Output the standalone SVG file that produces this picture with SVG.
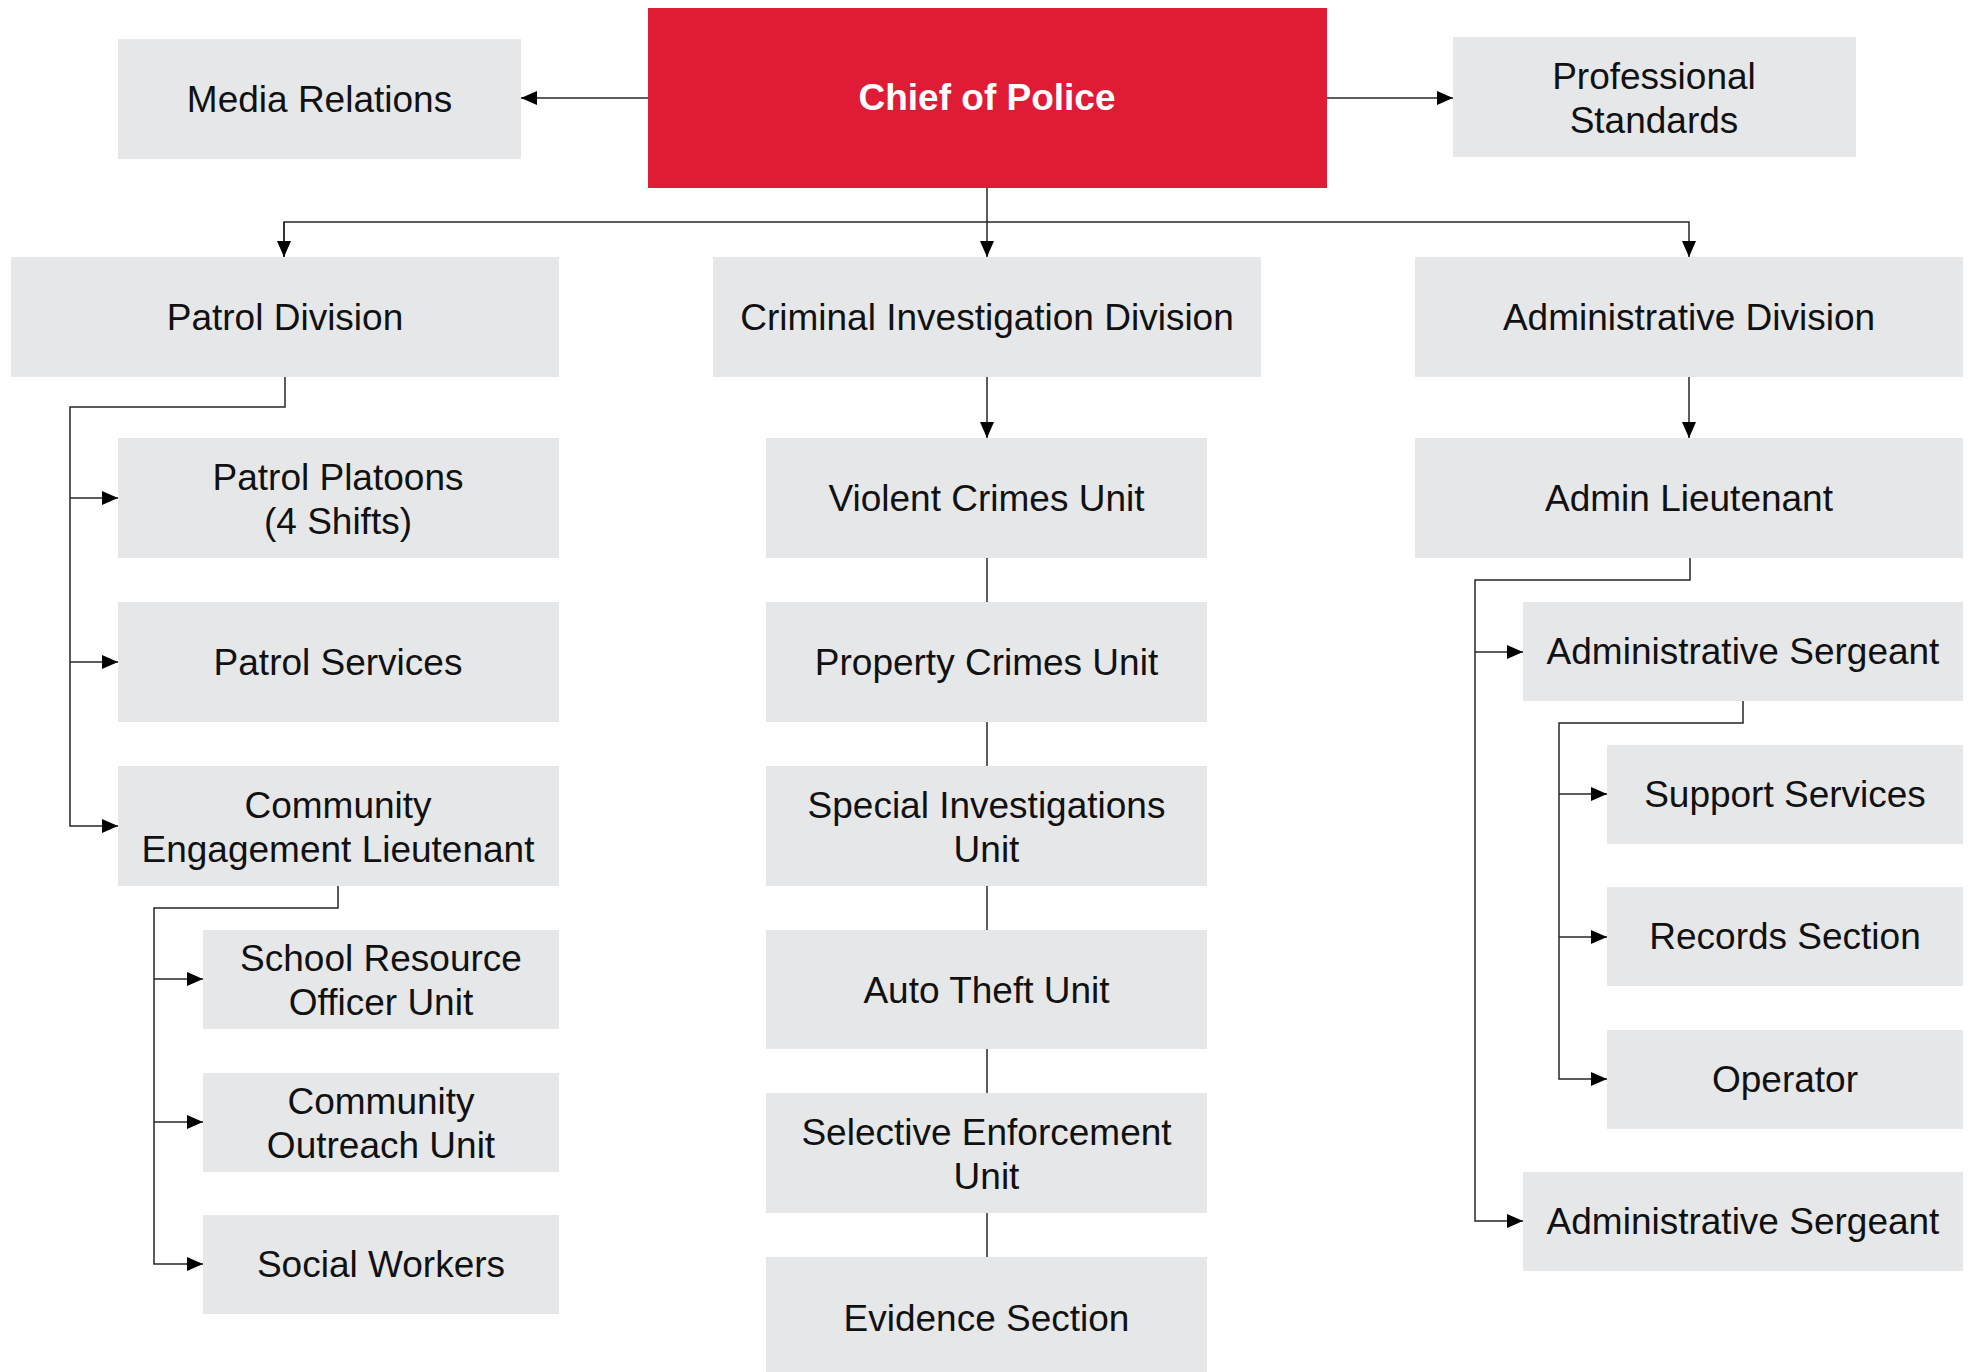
<svg xmlns="http://www.w3.org/2000/svg" width="1973" height="1372" viewBox="0 0 1973 1372">
<style>
.box{fill:#e6e7e8}
.chief{fill:#df1b35}
text{font-family:"Liberation Sans",Arial,sans-serif;font-size:37px;fill:#111;text-anchor:middle}
.w{fill:#fff;font-weight:bold}
.c{fill:none;stroke:#262626;stroke-width:1.5}
</style>
<defs>
<marker id="ah" markerUnits="userSpaceOnUse" viewBox="0 0 16 14" markerWidth="16" markerHeight="14" refX="16" refY="7" orient="auto">
<path d="M0,0 L16,7 L0,14 z" fill="#000"/>
</marker>
</defs>
<rect width="1973" height="1372" fill="#fff"/>

<g id="connectors">
<path class="c" d="M648,98 H521" marker-end="url(#ah)"/>
<path class="c" d="M1327,98 H1453" marker-end="url(#ah)"/>
<path class="c" d="M987,188 V257" marker-end="url(#ah)"/>
<path class="c" d="M284,257 V222 H1689 V257" marker-end="url(#ah)"/>
<path class="c" d="M284,222 V257" marker-end="url(#ah)"/>
<path class="c" d="M285,377 V407 H70 V826 H118" marker-end="url(#ah)"/>
<path class="c" d="M70,498 H118" marker-end="url(#ah)"/>
<path class="c" d="M70,662 H118" marker-end="url(#ah)"/>
<path class="c" d="M338,886 V908 H154 V1264 H203" marker-end="url(#ah)"/>
<path class="c" d="M154,979 H203" marker-end="url(#ah)"/>
<path class="c" d="M154,1122 H203" marker-end="url(#ah)"/>
<path class="c" d="M987,377 V438" marker-end="url(#ah)"/>
<path class="c" d="M987,558 V602 M987,722 V766 M987,886 V930 M987,1049 V1093 M987,1213 V1257"/>
<path class="c" d="M1689,377 V438" marker-end="url(#ah)"/>
<path class="c" d="M1690,558 V580 H1475 V1221 H1523" marker-end="url(#ah)"/>
<path class="c" d="M1475,652 H1523" marker-end="url(#ah)"/>
<path class="c" d="M1743,701 V723 H1559 V1079 H1607" marker-end="url(#ah)"/>
<path class="c" d="M1559,794 H1607" marker-end="url(#ah)"/>
<path class="c" d="M1559,937 H1607" marker-end="url(#ah)"/>
</g>

<g id="chief"><rect class="chief" x="648" y="8" width="679" height="180"/><text class="w" x="987" y="110">Chief of Police</text></g>
<g id="media"><rect class="box" x="118" y="39" width="403" height="120"/><text x="319.5" y="112">Media Relations</text></g>
<g id="profstd"><rect class="box" x="1453" y="37" width="403" height="120"/><text x="1654" y="89">Professional</text><text x="1654" y="133">Standards</text></g>

<g id="patroldiv"><rect class="box" x="11" y="257" width="548" height="120"/><text x="285" y="330">Patrol Division</text></g>
<g id="cid"><rect class="box" x="713" y="257" width="548" height="120"/><text x="987" y="330">Criminal Investigation Division</text></g>
<g id="admindiv"><rect class="box" x="1415" y="257" width="548" height="120"/><text x="1689" y="330">Administrative Division</text></g>

<g id="platoons"><rect class="box" x="118" y="438" width="441" height="120"/><text x="338" y="490">Patrol Platoons</text><text x="338" y="534">(4 Shifts)</text></g>
<g id="patrolsvc"><rect class="box" x="118" y="602" width="441" height="120"/><text x="338" y="675">Patrol Services</text></g>
<g id="cel"><rect class="box" x="118" y="766" width="441" height="120"/><text x="338" y="818">Community</text><text x="338" y="862">Engagement Lieutenant</text></g>
<g id="sro"><rect class="box" x="203" y="930" width="356" height="99"/><text x="381" y="971">School Resource</text><text x="381" y="1015">Officer Unit</text></g>
<g id="outreach"><rect class="box" x="203" y="1073" width="356" height="99"/><text x="381" y="1114">Community</text><text x="381" y="1158">Outreach Unit</text></g>
<g id="social"><rect class="box" x="203" y="1215" width="356" height="99"/><text x="381" y="1277">Social Workers</text></g>

<g id="violent"><rect class="box" x="766" y="438" width="441" height="120"/><text x="986.5" y="511">Violent Crimes Unit</text></g>
<g id="property"><rect class="box" x="766" y="602" width="441" height="120"/><text x="986.5" y="675">Property Crimes Unit</text></g>
<g id="special"><rect class="box" x="766" y="766" width="441" height="120"/><text x="986.5" y="818">Special Investigations</text><text x="986.5" y="862">Unit</text></g>
<g id="autotheft"><rect class="box" x="766" y="930" width="441" height="119"/><text x="986.5" y="1003">Auto Theft Unit</text></g>
<g id="selective"><rect class="box" x="766" y="1093" width="441" height="120"/><text x="986.5" y="1145">Selective Enforcement</text><text x="986.5" y="1189">Unit</text></g>
<g id="evidence"><rect class="box" x="766" y="1257" width="441" height="120"/><text x="986.5" y="1331">Evidence Section</text></g>

<g id="adminlt"><rect class="box" x="1415" y="438" width="548" height="120"/><text x="1689" y="511">Admin Lieutenant</text></g>
<g id="adminsgt1"><rect class="box" x="1523" y="602" width="440" height="99"/><text x="1743" y="664">Administrative Sergeant</text></g>
<g id="support"><rect class="box" x="1607" y="745" width="356" height="99"/><text x="1785" y="807">Support Services</text></g>
<g id="records"><rect class="box" x="1607" y="887" width="356" height="99"/><text x="1785" y="949">Records Section</text></g>
<g id="operator"><rect class="box" x="1607" y="1030" width="356" height="99"/><text x="1785" y="1092">Operator</text></g>
<g id="adminsgt2"><rect class="box" x="1523" y="1172" width="440" height="99"/><text x="1743" y="1234">Administrative Sergeant</text></g>
</svg>
